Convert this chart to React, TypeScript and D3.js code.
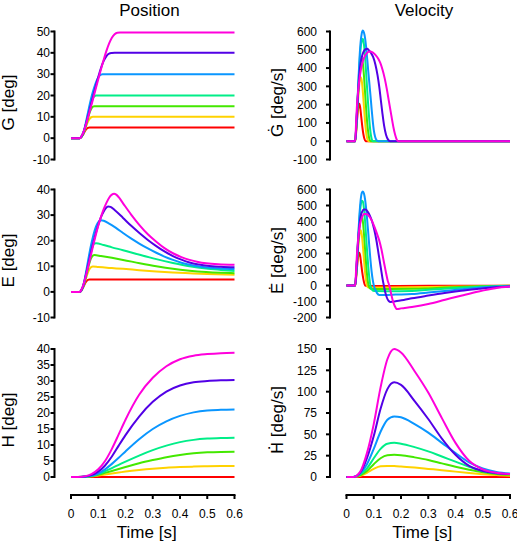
import React from 'react';
import * as d3 from 'd3';

type Pt = [number, number];

// ---------- data ----------
const SERIES_COLORS = ['#ff0000', '#ffd200', '#44e800', '#00ee88', '#0a96ff', '#5200e6', '#ff00dc'];
const TIME_TICKS = [0, 0.1, 0.2, 0.3, 0.4, 0.5, 0.6];
const TIME_TICK_LABELS = ['0', '0.1', '0.2', '0.3', '0.4', '0.5', '0.6'];

const G_POS_TICKS = [-10, 0, 10, 20, 30, 40, 50];
const G_VEL_TICKS = [-100, 0, 100, 200, 300, 400, 500, 600];
const E_POS_TICKS = [-10, 0, 10, 20, 30, 40];
const E_VEL_TICKS = [-200, -100, 0, 100, 200, 300, 400, 500, 600];
const H_POS_TICKS = [0, 5, 10, 15, 20, 25, 30, 35, 40];
const H_VEL_TICKS = [0, 25, 50, 75, 100, 125, 150];

const G_POS: Pt[][] = [
  [[0,0],[0.032,0],[0.038,0.5],[0.044,1.6],[0.050,3.0],[0.056,4.2],[0.062,4.8],[0.068,5],[0.6,5]],
  [[0,0],[0.032,0],[0.038,0.6],[0.044,1.8],[0.050,3.6],[0.056,5.6],[0.062,7.6],[0.068,9.0],[0.074,9.8],[0.080,10],[0.6,10]],
  [[0,0],[0.032,0],[0.038,0.6],[0.044,1.9],[0.050,3.9],[0.056,6.5],[0.062,9.2],[0.068,11.8],[0.074,13.7],[0.080,14.7],[0.086,15],[0.6,15]],
  [[0,0],[0.032,0],[0.038,0.6],[0.044,2],[0.050,4.3],[0.056,7.4],[0.062,10.7],[0.068,14],[0.074,16.8],[0.080,18.7],[0.086,19.7],[0.092,20],[0.6,20]],
  [[0,0],[0.032,0],[0.038,0.7],[0.044,2.2],[0.050,4.8],[0.056,8.2],[0.062,11.8],[0.068,15.4],[0.074,18.7],[0.080,21.6],[0.086,24.1],[0.092,26.3],[0.098,28],[0.104,29.2],[0.110,29.8],[0.116,30],[0.6,30]],
  [[0,0],[0.032,0],[0.038,0.7],[0.044,2.1],[0.050,4.4],[0.056,7.2],[0.062,10.1],[0.068,13.1],[0.074,16.1],[0.080,19.1],[0.090,24.0],[0.100,28.7],[0.110,32.9],[0.120,36.2],[0.130,38.5],[0.140,39.6],[0.150,39.9],[0.16,40],[0.6,40]],
  [[0,0],[0.032,0],[0.036,0.4],[0.040,1.3],[0.046,3.0],[0.052,5.2],[0.058,7.7],[0.064,10.4],[0.072,14.1],[0.080,17.9],[0.090,22.8],[0.100,27.6],[0.110,32.3],[0.120,36.8],[0.130,40.9],[0.140,44.4],[0.150,47.1],[0.160,48.7],[0.170,49.4],[0.180,49.5],[0.6,49.5]],
];

const G_VEL: Pt[][] = [
  [[0,0],[0.032,0],[0.036,60],[0.040,140],[0.044,192],[0.047,205],[0.050,188],[0.054,135],[0.058,80],[0.062,38],[0.066,12],[0.070,0],[0.6,0]],
  [[0,0],[0.032,0],[0.036,75],[0.040,170],[0.044,260],[0.048,325],[0.052,350],[0.056,330],[0.060,270],[0.064,190],[0.068,110],[0.072,50],[0.076,15],[0.080,0],[0.6,0]],
  [[0,0],[0.032,0],[0.036,80],[0.040,185],[0.044,295],[0.048,385],[0.052,440],[0.056,455],[0.060,425],[0.064,360],[0.068,270],[0.072,180],[0.076,100],[0.080,45],[0.084,12],[0.088,0],[0.6,0]],
  [[0,0],[0.032,0],[0.036,85],[0.040,200],[0.044,320],[0.048,430],[0.052,510],[0.056,550],[0.060,560],[0.064,530],[0.068,465],[0.072,375],[0.076,280],[0.080,190],[0.084,110],[0.088,50],[0.092,15],[0.096,0],[0.6,0]],
  [[0,0],[0.032,0],[0.036,90],[0.040,210],[0.044,340],[0.048,460],[0.052,545],[0.056,590],[0.060,605],[0.064,595],[0.068,565],[0.072,515],[0.076,450],[0.080,380],[0.084,315],[0.088,250],[0.092,180],[0.096,115],[0.100,62],[0.105,25],[0.110,7],[0.116,0],[0.6,0]],
  [[0,0],[0.032,0],[0.036,90],[0.040,200],[0.044,300],[0.048,380],[0.052,430],[0.058,470],[0.064,493],[0.070,503],[0.076,505],[0.082,498],[0.090,482],[0.098,460],[0.106,420],[0.114,360],[0.120,300],[0.126,225],[0.132,150],[0.138,85],[0.145,35],[0.152,10],[0.160,0],[0.6,0]],
  [[0,0],[0.032,0],[0.035,95],[0.038,185],[0.042,262],[0.046,320],[0.050,365],[0.056,415],[0.064,455],[0.074,480],[0.085,490],[0.096,486],[0.106,472],[0.116,452],[0.124,428],[0.132,392],[0.140,345],[0.148,285],[0.156,215],[0.164,145],[0.172,78],[0.178,38],[0.184,10],[0.190,0],[0.6,0]],
];

const E_POS: Pt[][] = [
  [[0,0],[0.032,0],[0.038,0.5],[0.044,1.6],[0.050,3.0],[0.056,4.1],[0.062,4.7],[0.068,4.85],[0.6,4.85]],
  [[0,0],[0.032,0],[0.038,0.6],[0.044,1.8],[0.050,3.6],[0.056,5.6],[0.062,7.5],[0.068,8.9],[0.074,9.7],[0.080,9.9],[0.100,9.7],[0.150,9.3],[0.191,9.0],[0.250,8.5],[0.313,8.0],[0.374,7.6],[0.435,7.3],[0.500,7.0],[0.600,6.7]],
  [[0,0],[0.032,0],[0.038,0.6],[0.044,1.9],[0.050,3.9],[0.056,6.4],[0.062,9.0],[0.068,11.4],[0.074,13.2],[0.080,14.2],[0.086,14.4],[0.110,14.0],[0.150,13.3],[0.191,12.5],[0.252,11.2],[0.313,10.0],[0.374,9.0],[0.435,8.3],[0.496,7.8],[0.550,7.5],[0.600,7.3]],
  [[0,0],[0.032,0],[0.038,0.6],[0.044,2.0],[0.050,4.3],[0.056,7.3],[0.062,10.5],[0.068,13.6],[0.074,16.2],[0.080,18.0],[0.086,18.9],[0.092,19.0],[0.120,18.3],[0.150,17.4],[0.191,16.3],[0.252,14.5],[0.313,12.8],[0.374,11.3],[0.435,10.0],[0.496,9.1],[0.550,8.6],[0.600,8.2]],
  [[0,0],[0.032,0],[0.038,0.7],[0.044,2.2],[0.050,4.8],[0.056,8.2],[0.062,11.8],[0.068,15.3],[0.074,18.5],[0.080,21.3],[0.086,23.7],[0.092,25.6],[0.098,26.9],[0.104,27.7],[0.110,28.0],[0.120,27.8],[0.140,26.7],[0.165,25.0],[0.191,23.0],[0.220,20.9],[0.252,18.8],[0.282,17.0],[0.313,15.3],[0.343,13.8],[0.374,12.5],[0.405,11.4],[0.435,10.6],[0.470,9.9],[0.500,9.5],[0.550,9.1],[0.600,8.9]],
  [[0,0],[0.032,0],[0.038,0.7],[0.044,2.1],[0.050,4.4],[0.056,7.2],[0.062,10.1],[0.068,13.0],[0.074,15.8],[0.080,18.5],[0.090,22.6],[0.100,26.2],[0.110,29.2],[0.120,31.4],[0.128,32.7],[0.136,33.4],[0.145,33.2],[0.160,32.0],[0.191,28.9],[0.220,25.9],[0.252,22.9],[0.282,20.3],[0.313,17.9],[0.343,15.8],[0.374,14.0],[0.405,12.6],[0.435,11.5],[0.470,10.7],[0.500,10.2],[0.550,9.8],[0.600,9.6]],
  [[0,0],[0.032,0],[0.036,0.4],[0.040,1.3],[0.046,3.0],[0.052,5.2],[0.058,7.7],[0.064,10.3],[0.072,13.9],[0.080,17.5],[0.090,21.8],[0.100,25.8],[0.110,29.3],[0.120,32.3],[0.130,34.8],[0.140,36.8],[0.150,38.0],[0.158,38.3],[0.166,38.0],[0.175,37.0],[0.191,34.6],[0.220,30.3],[0.252,26.0],[0.282,22.5],[0.313,19.6],[0.343,17.1],[0.374,15.1],[0.405,13.6],[0.435,12.5],[0.466,11.7],[0.496,11.2],[0.540,10.8],[0.600,10.6]],
];

const E_VEL: Pt[][] = [
  [[0,0],[0.032,0],[0.036,60],[0.040,140],[0.044,192],[0.047,205],[0.050,188],[0.054,135],[0.058,80],[0.062,38],[0.066,10],[0.070,-2],[0.100,-3],[0.300,-2],[0.600,-1]],
  [[0,0],[0.032,0],[0.036,75],[0.040,170],[0.044,260],[0.048,325],[0.052,345],[0.056,318],[0.060,250],[0.064,165],[0.068,85],[0.072,28],[0.076,-5],[0.082,-12],[0.150,-12],[0.300,-10],[0.400,-7],[0.500,-4],[0.600,-2]],
  [[0,0],[0.032,0],[0.036,80],[0.040,185],[0.044,295],[0.048,380],[0.052,428],[0.056,435],[0.060,400],[0.064,325],[0.068,230],[0.072,135],[0.076,58],[0.080,8],[0.085,-16],[0.092,-22],[0.250,-21],[0.300,-18],[0.360,-13],[0.420,-9],[0.490,-5],[0.600,-2]],
  [[0,0],[0.032,0],[0.036,85],[0.040,200],[0.044,320],[0.048,425],[0.052,500],[0.056,530],[0.060,525],[0.064,482],[0.068,405],[0.072,305],[0.076,205],[0.080,115],[0.084,45],[0.088,-2],[0.094,-27],[0.102,-35],[0.150,-36],[0.240,-34],[0.300,-27],[0.360,-21],[0.420,-14],[0.490,-8],[0.600,-3]],
  [[0,0],[0.032,0],[0.036,90],[0.040,210],[0.044,340],[0.048,455],[0.052,535],[0.056,578],[0.060,588],[0.064,575],[0.068,540],[0.072,482],[0.076,408],[0.080,325],[0.084,238],[0.088,158],[0.092,90],[0.096,38],[0.100,2],[0.106,-28],[0.112,-48],[0.120,-60],[0.140,-60],[0.180,-57],[0.240,-53],[0.300,-44],[0.360,-34],[0.420,-24],[0.485,-14],[0.546,-7],[0.600,-4]],
  [[0,0],[0.032,0],[0.036,90],[0.040,200],[0.044,305],[0.048,385],[0.052,432],[0.058,463],[0.064,475],[0.070,475],[0.078,460],[0.086,435],[0.094,400],[0.102,348],[0.110,280],[0.118,195],[0.126,110],[0.132,45],[0.137,0],[0.142,-40],[0.148,-75],[0.155,-97],[0.162,-103],[0.180,-98],[0.210,-90],[0.240,-80],[0.300,-63],[0.360,-47],[0.420,-33],[0.485,-21],[0.546,-11],[0.600,-6]],
  [[0,0],[0.032,0],[0.035,90],[0.038,185],[0.042,275],[0.046,340],[0.050,385],[0.056,422],[0.065,447],[0.075,445],[0.085,428],[0.095,398],[0.105,355],[0.113,318],[0.120,282],[0.128,228],[0.136,158],[0.144,88],[0.151,32],[0.157,0],[0.163,-45],[0.170,-95],[0.177,-128],[0.185,-147],[0.200,-143],[0.240,-134],[0.300,-116],[0.362,-89],[0.424,-62],[0.485,-37],[0.546,-17],[0.600,-7]],
];

const H_TIMES = [0, 0.025, 0.05, 0.075, 0.1, 0.125, 0.15, 0.175, 0.2, 0.25, 0.3, 0.35, 0.4, 0.45, 0.5, 0.55, 0.6];
const H_POS_VALUES: number[][] = [
  [0,0,0,0,0,0,0,0,0,0,0,0,0,0,0,0,0],
  [0,0,0.05,0.2,0.5,0.8,1.1,1.4,1.7,2.2,2.6,2.9,3.1,3.25,3.35,3.4,3.4],
  [0,0,0.05,0.25,0.7,1.3,1.9,2.5,3.1,4.3,5.3,6.2,6.9,7.4,7.7,7.85,7.9],
  [0,0,0.1,0.3,0.9,1.8,2.8,3.8,4.8,6.7,8.4,9.8,10.9,11.6,12.0,12.2,12.3],
  [0,0,0.1,0.4,1.1,2.4,4.1,6.0,8.0,11.8,15.0,17.4,19.1,20.2,20.8,21.0,21.1],
  [0,0,0.15,0.6,1.7,3.6,6.4,9.8,13.1,18.9,23.5,26.7,28.6,29.6,30.0,30.2,30.3],
  [0,0,0.2,0.9,2.4,5.0,8.8,13.3,17.9,25.7,31.0,34.6,36.8,37.9,38.4,38.7,38.8],
];
const H_VEL_VALUES: number[][] = [
  [0,0,0,0,0,0,0,0,0,0,0,0,0,0,0,0,0],
  [0,0,1.5,5,9.5,12.5,13,12.8,12.3,11,9.5,8,6.3,4.7,3.3,2.2,1.5],
  [0,0,2,7,15,22,25.5,26,25.5,23,20,16,12,8.5,5.5,3.5,2.5],
  [0,0,3,10,22,33,39,40,39,35,30,24,18,12,7,4.5,3.5],
  [0,0,4,15,33,53,67,71,70,62,52,40,28,17,10,6,4],
  [0,0,5,22,48,80,103,111,108,89,68,45,26,13,7,4.5,3.5],
  [0,0,6,28,62,105,138,150,146,124,99,69,40,19,9,5,3.5],
];

// ---------- layout ----------
const WIDTH = 517;
const HEIGHT = 542;
const COL_X0 = [71, 346.5];
const PLOT_W = 163.5;
const AXIS_GAP = 16.5;
const ROW_TOP = [31.5, 189.5, 349];
const ROW_H = 128;
const TICK_LABEL_X = [50, 317];
const YLABEL_X = [14, 283];
const FONT = '"Liberation Sans", Arial, Helvetica, "DejaVu Sans", sans-serif';

const toPts = (vals: number[]): Pt[] => vals.map((v, i) => [H_TIMES[i], v] as Pt);

interface PanelDef {
  row: number;
  col: number;
  series: Pt[][];
  ticks: number[];
  head: string;
  headFont?: string;
  rest: string;
}

const PANELS: PanelDef[] = [
  { row: 0, col: 0, series: G_POS, ticks: G_POS_TICKS, head: 'G', rest: ' [deg]' },
  { row: 0, col: 1, series: G_VEL, ticks: G_VEL_TICKS, head: '\u0120', rest: ' [deg/s]' },
  { row: 1, col: 0, series: E_POS, ticks: E_POS_TICKS, head: 'E', rest: ' [deg]' },
  { row: 1, col: 1, series: E_VEL, ticks: E_VEL_TICKS, head: '\u0116', rest: ' [deg/s]' },
  { row: 2, col: 0, series: H_POS_VALUES.map(toPts), ticks: H_POS_TICKS, head: 'H', rest: ' [deg]' },
  {
    row: 2,
    col: 1,
    series: H_VEL_VALUES.map(toPts),
    ticks: H_VEL_TICKS,
    head: '\u1E22',
    headFont: '"DejaVu Sans", sans-serif',
    rest: ' [deg/s]',
  },
];

function Panel({ p }: { p: PanelDef }) {
  const x0 = COL_X0[p.col];
  const top = ROW_TOP[p.row];
  const x = d3.scaleLinear().domain([0, 0.6]).range([x0, x0 + PLOT_W]);
  const dom = d3.extent(p.ticks) as [number, number];
  const y = d3.scaleLinear().domain(dom).range([top + ROW_H, top]);
  const line = d3
    .line<Pt>()
    .x((d) => x(d[0]))
    .y((d) => y(d[1]))
    .curve(d3.curveMonotoneX);
  const axisX = x0 - AXIS_GAP;
  const yc = top + ROW_H / 2 + 7;
  return (
    <g>
      <line x1={axisX} x2={axisX} y1={y(dom[1])} y2={y(dom[0])} stroke="#000" strokeWidth={2} strokeLinecap="square" />
      {p.ticks.map((t) => (
        <g key={t}>
          <line x1={axisX - 4} x2={axisX} y1={y(t)} y2={y(t)} stroke="#000" strokeWidth={2} />
          <text x={TICK_LABEL_X[p.col]} y={y(t)} dy="0.36em" textAnchor="end" fontSize={12} fontFamily={FONT} fill="#000">
            {t}
          </text>
        </g>
      ))}
      <text
        transform={`translate(${YLABEL_X[p.col]},${yc}) rotate(-90)`}
        textAnchor="middle"
        fontSize={17}
        fontFamily={FONT}
        fill="#000"
      >
        <tspan fontFamily={p.headFont || FONT} fontSize={p.headFont ? 16 : 17}>
          {p.head}
        </tspan>
        <tspan>{p.rest}</tspan>
      </text>
      {p.series.map((s, i) => (
        <path key={i} d={line(s) || ''} fill="none" stroke={SERIES_COLORS[i]} strokeWidth={2} strokeLinejoin="round" />
      ))}
      {p.row === 2 && (
        <g>
          <line x1={x(0)} x2={x(0.6)} y1={495} y2={495} stroke="#000" strokeWidth={2} strokeLinecap="square" />
          {TIME_TICKS.map((t, i) => (
            <g key={t}>
              <line x1={x(t)} x2={x(t)} y1={495} y2={499} stroke="#000" strokeWidth={2} />
              <text x={x(t)} y={518} textAnchor="middle" fontSize={12} fontFamily={FONT} fill="#000">
                {TIME_TICK_LABELS[i]}
              </text>
            </g>
          ))}
          <text x={x0 + PLOT_W / 2 - 6} y={538} textAnchor="middle" fontSize={17} fontFamily={FONT} fill="#000">
            Time [s]
          </text>
        </g>
      )}
    </g>
  );
}

export default function App() {
  return (
    <svg
      width={WIDTH}
      height={HEIGHT}
      viewBox={`0 0 ${WIDTH} ${HEIGHT}`}
      style={{ position: 'absolute', left: 0, top: 0, background: '#fff' }}
    >
      <rect width={WIDTH} height={HEIGHT} fill="#fff" />
      <text x={149.5} y={16} textAnchor="middle" fontSize={17} fontFamily={FONT} fill="#000">
        Position
      </text>
      <text x={424} y={16} textAnchor="middle" fontSize={17} fontFamily={FONT} fill="#000">
        Velocity
      </text>
      {PANELS.map((p, i) => (
        <Panel key={i} p={p} />
      ))}
    </svg>
  );
}
